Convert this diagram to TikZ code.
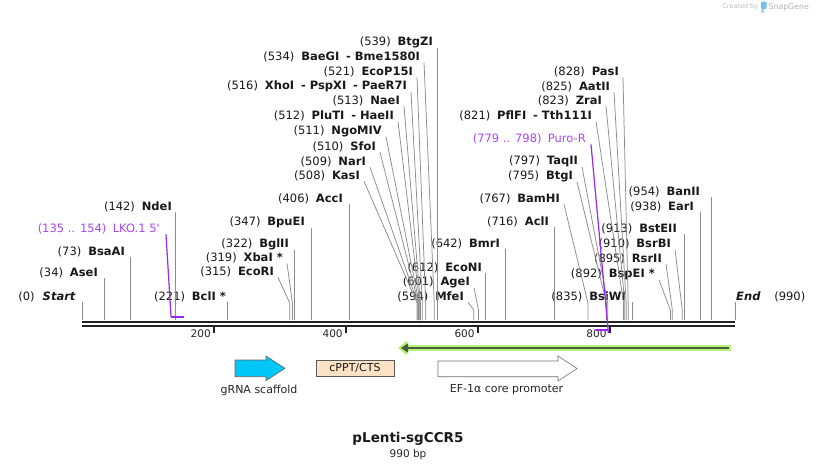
\documentclass[tikz,border=0pt]{standalone}
\usepackage{fontspec}
\setmainfont{DejaVu Sans}
\usepackage{xcolor}
\usepackage{tikz}
\usetikzlibrary{arrows.meta,positioning}
\definecolor{purp}{RGB}{170,70,245}
\definecolor{purpline}{RGB}{150,40,240}
\definecolor{scaff}{RGB}{0,198,245}
\definecolor{ppt}{RGB}{253,226,198}
\definecolor{halo}{RGB}{180,242,122}
\definecolor{olive}{RGB}{75,94,60}
\definecolor{bbone}{RGB}{34,34,34}
\definecolor{snapblue}{RGB}{120,190,240}
\newcommand{\enz}[2]{(#1)\hspace{0.6em}\textbf{#2}}

\begin{document}
\begin{tikzpicture}[x=1pt, y=-1pt,
  site/.style={anchor=east, inner sep=0pt, text=black!90,
    font=\fontsize{11.5}{13}\selectfont},
  feat/.style={site, text=purp},
  cut/.style={draw=black!45, line width=0.75pt},
  featline/.style={draw=purpline, line width=1.2pt},
  featbar/.style={draw=purpline, line width=2pt},
  backbone/.style={draw=bbone, line width=2.6pt},
  ticklbl/.style={anchor=east, inner sep=0pt, text=black!85,
    font=\fontsize{10.5}{12}\selectfont},
  caption/.style={inner sep=0pt, text=black!85, font=\fontsize{11}{13}\selectfont}
]
\useasboundingbox (0,0) rectangle (818,471);
\fill[white] (0,0) rectangle (818,471);

% sites on the backbone
\foreach \p in {0,34,73,135,142,154,200,221,315,319,322,347,400,406,508,509,510,
  511,512,513,516,521,534,539,594,600,601,612,642,716,767,779,795,797,798,800,
  821,823,825,828,835,892,895,910,913,938,954,990}
  \coordinate (b\p) at ({82+0.6596*\p},320);
\coordinate (kneeA) at (0,303);
\coordinate (kneeB) at (0,310);
\coordinate (topline) at (0,322);
\coordinate (botline) at (0,326);

\draw[backbone] (b0 |- topline) -- (b990 |- topline);
\draw[backbone] (b0 |- botline) -- (b990 |- botline);
\foreach \t in {200,400,600,800} {
  \draw[draw=bbone, line width=2pt] ([yshift=-7pt]b\t) -- ([yshift=-13pt]b\t);
  \node[ticklbl] (t\t) at ([xshift=-3pt,yshift=-13.5pt]b\t) {\t};
}

% enzyme labels
\node[site] (start) at (76,297) {(0)\hspace{0.7em}\textbf{\textit{Start}}};
\node[site] (aseI) at (98,273) {\enz{34}{AseI}};
\node[site] (bsaAI) at (125,252) {\enz{73}{BsaAI}};
\node[feat] (lko) at (160,229) {(135 .. 154)\hspace{0.55em}LKO.1 5\textquotesingle};
\node[site] (ndeI) at (172,207) {\enz{142}{NdeI}};
\node[site] (bclI) at (226,297) {\enz{221}{BclI *}};
\node[site] (ecoRI) at (274,272) {\enz{315}{EcoRI}};
\node[site] (xbaI) at (283,258) {\enz{319}{XbaI *}};
\node[site] (bglII) at (289,244) {\enz{322}{BglII}};
\node[site] (bpuEI) at (305,222) {\enz{347}{BpuEI}};
\node[site] (accI) at (343,199) {\enz{406}{AccI}};
\node[site] (kasI) at (360,176) {\enz{508}{KasI}};
\node[site] (narI) at (366,162) {\enz{509}{NarI}};
\node[site] (sfoI) at (376,147) {\enz{510}{SfoI}};
\node[site] (ngoMIV) at (382,131) {\enz{511}{NgoMIV}};
\node[site] (pluTI) at (394,116) {\enz{512}{PluTI\hspace{0.6em}- HaeII}};
\node[site] (naeI) at (400,101) {\enz{513}{NaeI}};
\node[site] (xhoI) at (407,86) {\enz{516}{XhoI\hspace{0.6em}- PspXI\hspace{0.6em}- PaeR7I}};
\node[site] (ecoP15I) at (413,72) {\enz{521}{EcoP15I}};
\node[site] (baeGI) at (420,57) {\enz{534}{BaeGI\hspace{0.6em}- Bme1580I}};
\node[site] (btgZI) at (433,42) {\enz{539}{BtgZI}};
\node[site] (mfeI) at (464,297) {\enz{594}{MfeI}};
\node[site] (ageI) at (470,282) {\enz{601}{AgeI}};
\node[site] (ecoNI) at (482,268) {\enz{612}{EcoNI}};
\node[site] (bmrI) at (500,244) {\enz{642}{BmrI}};
\node[site] (aclI) at (549,222) {\enz{716}{AclI}};
\node[site] (bamHI) at (560,199) {\enz{767}{BamHI}};
\node[site] (btgI) at (573,176) {\enz{795}{BtgI}};
\node[site] (taqII) at (578,161) {\enz{797}{TaqII}};
\node[feat] (puro) at (586,139) {(779 .. 798)\hspace{0.55em}Puro-R};
\node[site] (pflFI) at (592,116) {\enz{821}{PflFI\hspace{0.6em}- Tth111I}};
\node[site] (zraI) at (602,101) {\enz{823}{ZraI}};
\node[site] (aatII) at (610,87) {\enz{825}{AatII}};
\node[site] (pasI) at (619,72) {\enz{828}{PasI}};
\node[site] (bsiWI) at (626,297) {\enz{835}{BsiWI}};
\node[site] (bspEI) at (655,274) {\enz{892}{BspEI *}};
\node[site] (rsrII) at (662,259) {\enz{895}{RsrII}};
\node[site] (bsrBI) at (671,244) {\enz{910}{BsrBI}};
\node[site] (bstEII) at (677,229) {\enz{913}{BstEII}};
\node[site] (earI) at (694,207) {\enz{938}{EarI}};
\node[site] (banII) at (700,192) {\enz{954}{BanII}};
\node[site, anchor=west] (stop) at (736,297) {\textbf{\textit{End}}\hspace{1.2em}(990)};

% cut lines
\foreach \n/\p in {start/0, aseI/34, bsaAI/73, ndeI/142, bclI/221, bglII/322,
  bpuEI/347, accI/406, btgZI/539, ecoNI/612, bmrI/642, aclI/716, bsiWI/835,
  bstEII/913, earI/938, banII/954, stop/990}
  \draw[cut] (b\p |- \n.south) -- (b\p);
\foreach \n/\p in {ecoRI/315, xbaI/319, kasI/508, narI/509, sfoI/510,
  ngoMIV/511, pluTI/512, naeI/513, xhoI/516, ecoP15I/521, baeGI/534,
  bamHI/767, btgI/795, taqII/797, pflFI/821, zraI/823, aatII/825, pasI/828}
  \draw[cut] ([xshift=4pt]\n.south east) -- (b\p |- kneeA) -- (b\p);
\foreach \n/\p in {mfeI/594, ageI/601, bspEI/892, rsrII/895, bsrBI/910}
  \draw[cut] ([xshift=4pt]\n.south east) -- (b\p |- kneeB) -- (b\p);

% primer marks
\coordinate (barA) at (0,317);
\coordinate (barB) at (0,330);
\coordinate (barC) at (0,333);
\draw[featline] ([xshift=6pt]lko.south east) -- (b135 |- barA);
\draw[featbar] (b135 |- barA) -- (b154 |- barA);
\draw[featline] ([xshift=5pt]puro.south east) -- (b798 |- barC);
\draw[featbar] (b779 |- barB) -- (b798 |- barB);

% reverse feature below the map
\coordinate (grnR) at (731,348);
\coordinate (grnL) at (398,348);
\draw[draw=halo, line width=6.5pt, -{Triangle[length=9pt,width=14pt]}]
  (grnR) -- (grnL);
\draw[draw=olive, line width=2.6pt, -{Triangle[length=7pt,width=9pt]}]
  ([xshift=-2pt]grnR) -- ([xshift=3pt]grnL);

% features
\draw[draw=black!60, fill=scaff, line width=0.6pt]
  (235,360) -- (266,360) -- (266,356) -- (285,368.3) -- (266,380.7)
  -- (266,376.7) -- (235,376.7) -- cycle;
\node[caption] (grna) at (259,390) {gRNA scaffold};
\node[draw=black!65, fill=ppt, line width=0.6pt, minimum width=78pt,
  minimum height=16.5pt, inner sep=0pt, text=black!90,
  font=\fontsize{11}{13}\selectfont] (cppt) at (355,368.3) {cPPT/CTS};
\draw[draw=black!55, fill=white, line width=0.6pt]
  (438,361) -- (558,361) -- (558,356) -- (577,368.5) -- (558,381)
  -- (558,376.7) -- (438,376.7) -- cycle;
\node[caption] (ef1a) at (506.5,390) {EF-1α core promoter};

% title
\node[inner sep=0pt, text=black!90, font=\bfseries\fontsize{13.5}{16}\selectfont]
  (title) at (408,439) {pLenti-sgCCR5};
\node[inner sep=0pt, text=black!85, font=\fontsize{10.5}{12}\selectfont]
  (size) at (408,454.5) {990 bp};

% credit
\node[anchor=east, inner sep=0pt, text=black!30, font=\fontsize{7.8}{9}\selectfont]
  (snap) at (809,7) {SnapGene};
\node[left=10pt of snap, inner sep=0pt, text=black!25, font=\fontsize{6.5}{8}\selectfont]
  (created) {Created by};
\fill[snapblue, rounded corners=1pt] (761,1.5) rectangle (766.5,9);
\fill[snapblue!60] (761,9) rectangle (763.5,13);
\end{tikzpicture}
\end{document}
